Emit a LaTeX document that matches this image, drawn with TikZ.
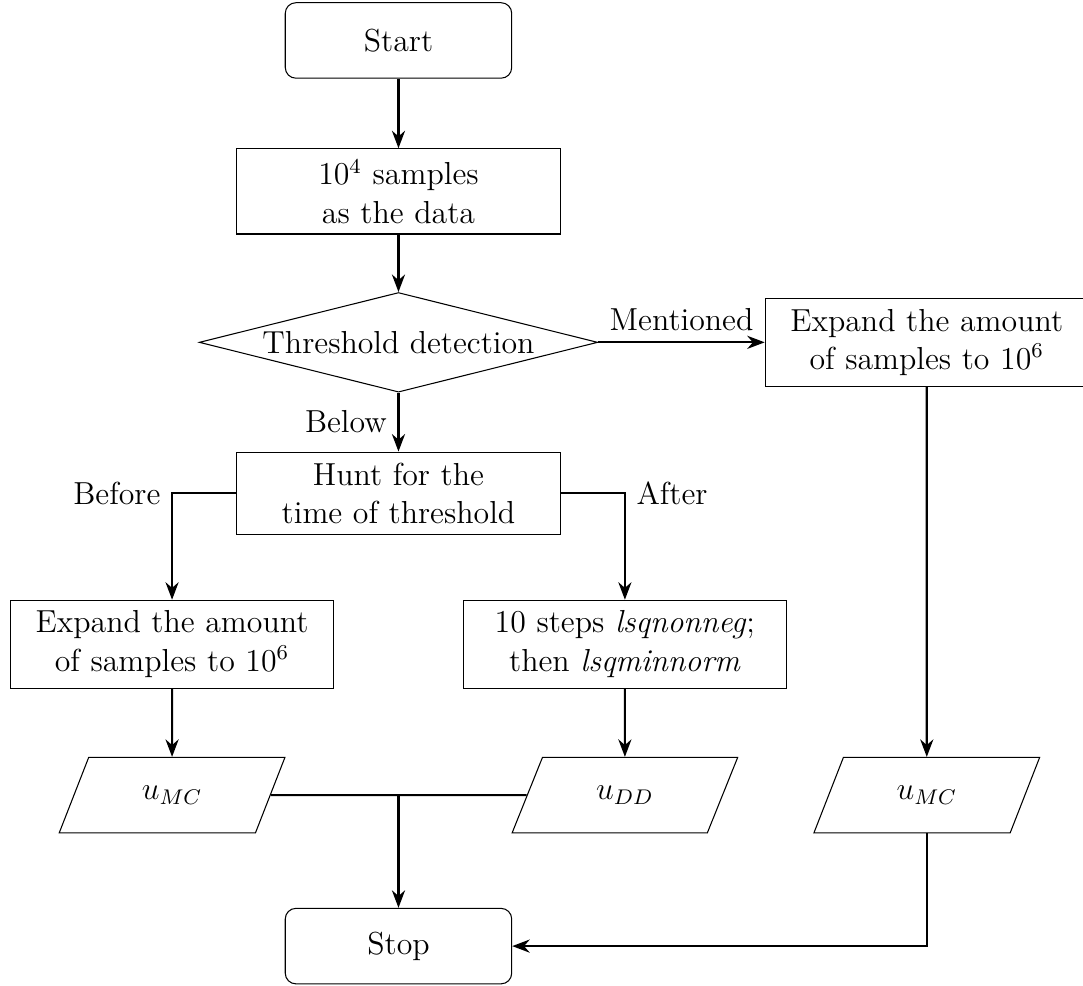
\documentclass[tikz,border=0pt,12pt]{standalone}
\usepackage{amsmath}
\usepackage{tikz}
\usetikzlibrary{shapes.geometric, arrows.meta}

\begin{document}
\begin{tikzpicture}[
    startstop/.style={rectangle, rounded corners, minimum width=3cm, minimum height=1cm, text centered, draw=black},
    process/.style={rectangle, minimum width=3cm, minimum height=1cm, text width=4cm, text centered, draw=black},
    decision/.style={diamond, aspect=5, inner sep=0pt, minimum width=5.28cm, minimum height=1.32cm, text centered, draw=black},
    io/.style={trapezium, trapezium left angle=70, trapezium right angle=110, trapezium stretches=true, minimum width=3cm, minimum height=1cm, text centered, draw=black},
    arrow/.style={thick, ->, >=Stealth},
    link/.style={thick}
]
    \useasboundingbox (-5.28,0.536) rectangle (9.07,-12.52);

    % Main column
    \node[startstop] (start) at (0, 0) {Start};
    \node[process] (data) at (0, -2) {10$^4$ samples\\as the data};
    \node[decision] (detect) at (0, -4) {Threshold detection};
    \node[process] (hunt) at (0, -6) {Hunt for the\\time of threshold};

    % Branches below the hunt
    \node[process] (expandA) at (-3, -8) {Expand the amount\\of samples to 10$^6$};
    \node[process] (fit) at (3, -8) {10 steps \textit{lsqnonneg};\\then \textit{lsqminnorm}};
    \node[io] (umcA) at (-3, -10) {$u_{MC}$};
    \node[io] (udd) at (3, -10) {$u_{DD}$};

    % Right branch
    \node[process] (expandB) at (7, -4) {Expand the amount\\of samples to 10$^6$};
    \node[io] (umcB) at (7, -10) {$u_{MC}$};

    \node[startstop] (stop) at (0, -12) {Stop};

    % Connections
    \draw[arrow] (start) -- (data);
    \draw[arrow] (data) -- (detect);
    \draw[arrow] (detect) -- node[midway, left] {Below} (hunt);
    \draw[arrow] (detect) -- node[midway, above] {Mentioned} (expandB);
    \draw[arrow] (hunt) -| node[pos=0.5, anchor=east] {Before} (expandA);
    \draw[arrow] (hunt) -| node[pos=0.5, anchor=west] {After} (fit);
    \draw[arrow] (expandA) -- (umcA);
    \draw[arrow] (fit) -- (udd);
    \draw[arrow] (expandB) -- (umcB);

    \coordinate (join) at (umcA.east -| stop.north);
    \draw[link] (umcA.east) -- (join) -- (udd.west);
    \draw[arrow] (join) -- (stop);
    \draw[arrow] (umcB) |- (stop);

\end{tikzpicture}
\end{document}
